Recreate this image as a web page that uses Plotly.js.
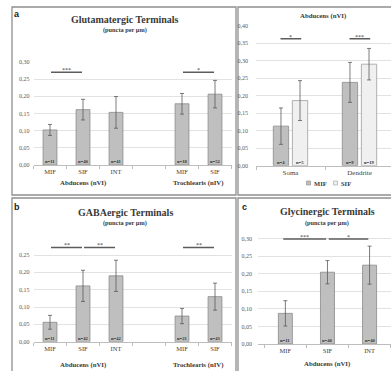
<!DOCTYPE html>
<html><head><meta charset="utf-8">
<script src="https://cdn.plot.ly/plotly-3.0.1.min.js"></script>
<style>html,body{margin:0;padding:0;background:#fff}#chart{width:391px;height:371px}</style>
</head><body><div id="chart"></div>
<script>
// ---------- data ----------
const glutLabels = ["MIF","SIF","INT","","MIF","SIF"];
const glutValues = [0.102,0.161,0.153,null,0.178,0.206];
const glutErrors = [0.016,0.030,0.046,null,0.030,0.040];
const glutN = ["n=11","n=40","n=41","","n=18","n=52"];
const glutSig = [[0,1,0.270,"***"],[4,5,0.270,"*"]];
const glutGroups = [["Abducens (nVI)",1],["Trochlearis (nIV)",4.5]];

const abdCats = ["Soma","Dendrite"];
const abdMIF = [0.113,0.238];
const abdMIFerr = [0.052,0.057];
const abdMIFn = ["n=4","n=9"];
const abdSIF = [0.186,0.290];
const abdSIFerr = [0.057,0.045];
const abdSIFn = ["n=5","n=19"];
const abdSig = [[0,0.363,"*"],[1,0.363,"***"]];

const gabaLabels = ["MIF","SIF","INT","","MIF","SIF"];
const gabaValues = [0.056,0.161,0.190,null,0.074,0.130];
const gabaErrors = [0.020,0.045,0.045,null,0.022,0.039];
const gabaN = ["n=11","n=42","n=42","","n=21","n=43"];
const gabaSig = [[0,1,0.272,"**"],[1,2,0.272,"**"],[4,5,0.272,"**"]];
const gabaGroups = [["Abducens (nVI)",1],["Trochlearis (nIV)",4.5]];

const glyLabels = ["MIF","SIF","INT"];
const glyValues = [0.087,0.204,0.224];
const glyErrors = [0.036,0.033,0.054];
const glyN = ["n=11","n=40","n=40"];
const glySig = [[0,1,0.298,"***"],[1,2,0.298,"*"]];
const glyGroups = [["Abducens (nVI)",1]];

const yTicks30 = [0,0.05,0.10,0.15,0.20,0.25,0.30];
const yTicks25 = [0,0.05,0.10,0.15,0.20,0.25];
const yTicks40 = [0,0.05,0.10,0.15,0.20,0.25,0.30,0.35,0.40];
const fmt = v => v.toFixed(2).replace(".", ",");

// ---------- helpers ----------
const W = 391, H = 371;
const px = x => x / W, py = y => 1 - y / H;
const SERIF = "Liberation Serif, Times New Roman, serif";
const DARK = "#3a3a3a", GRID = "#e2e2e2", AXL = "#bdbdbd";
const BAR = "#bfbfbf", BARL = "#8a8a8a", LIGHT = "#f0f0f0", LIGHTL = "#9e9e9e";

function xAx(anchor, domain, range, labels) {
  const n = labels.length;
  const minor = [];
  for (let i = 0; i <= n; i++) minor.push(i - 0.5);
  return {
    anchor, domain, range, tickmode: "array", tickvals: labels.map((_, i) => i), ticktext: labels,
    ticks: "", showgrid: false, zeroline: false, showline: true, linecolor: AXL, linewidth: 1,
    tickfont: {family: SERIF, size: 6.5, color: "#404040"},
    minor: {tickmode: "array", tickvals: minor, ticks: "outside", ticklen: 3, tickcolor: AXL, showgrid: false},
    fixedrange: true
  };
}
function yAx(anchor, domain, range, ticks, standoff) {
  return {
    anchor, domain, range, tickmode: "array", tickvals: ticks, ticktext: ticks.map(fmt),
    showgrid: true, gridcolor: GRID, gridwidth: 1, zeroline: false, showline: false, ticks: "",
    ticklabelstandoff: standoff, tickfont: {family: SERIF, size: 6, color: "#595959"}, fixedrange: true
  };
}
function barTrace(xa, ya, vals, errs, width, fill, line, offset, name) {
  const t = {
    type: "bar", x: vals.map((_, i) => i), y: vals, xaxis: xa, yaxis: ya, width: width,
    marker: {color: fill, line: {color: line, width: 0.8}}, name: name, showlegend: false,
    error_y: {type: "data", array: errs, visible: true, color: "#5a5a5a", thickness: 0.8, width: 2},
    hoverinfo: "none"
  };
  if (offset !== undefined) t.offset = offset;
  return t;
}

const annotations = [], shapes = [];
function txt(text, x, y, size, opts) {
  annotations.push(Object.assign({text, x, y, xref: "paper", yref: "paper", showarrow: false,
    font: {family: SERIF, size, color: DARK}, xanchor: "center", yanchor: "middle"}, opts || {}));
}
function nLabels(xa, ya, labels, dx) {
  labels.forEach((t, i) => {
    if (!t) return;
    annotations.push({text: "<b>" + t + "</b>", x: i + (dx || 0), y: 0, xref: xa, yref: ya, showarrow: false,
      yanchor: "bottom", yshift: -1, font: {family: SERIF, size: 4.6, color: "#333"}});
  });
}
function sig(xa, ya, x0, x1, y, label) {
  shapes.push({type: "line", xref: xa, yref: ya, x0, x1, y0: y, y1: y, line: {color: "#5c5c5c", width: 1.5}});
  annotations.push({text: label, x: (x0 + x1) / 2, y, xref: xa, yref: ya, showarrow: false,
    yanchor: "bottom", yshift: -3, font: {family: SERIF, size: 6, color: "#333"}});
}
function groupLabels(xa, groups, y) {
  groups.forEach(g => annotations.push({text: "<b>" + g[0] + "</b>", x: g[1], xref: xa, y: py(y), yref: "paper",
    showarrow: false, yanchor: "middle", font: {family: SERIF, size: 6.8, color: DARK}}));
}
function rect(x0, y0, x1, y1) {
  shapes.push({type: "rect", xref: "paper", yref: "paper", x0: px(x0), x1: px(x1), y0: py(y1), y1: py(y0),
    line: {color: "#8f8f8f", width: 1.3}, fillcolor: "rgba(0,0,0,0)", layer: "below"});
}

// ---------- traces ----------
const traces = [
  barTrace("x", "y", glutValues, glutErrors, 0.42, BAR, BARL),
  barTrace("x2", "y2", abdMIF, abdMIFerr, 0.222, BAR, BARL, -0.249, "MIF"),
  barTrace("x2", "y2", abdSIF, abdSIFerr, 0.222, LIGHT, LIGHTL, 0.027, "SIF"),
  barTrace("x3", "y3", gabaValues, gabaErrors, 0.42, BAR, BARL),
  barTrace("x4", "y4", glyValues, glyErrors, 0.333, BAR, BARL)
];

// ---------- panel frames ----------
rect(12, 7, 236, 195);
rect(238, 7, 396, 195);
rect(12, 198, 236, 376);
rect(238, 198, 396, 376);

// ---------- panel a ----------
txt("<b>a</b>", px(17), py(14), 9, {font: {family: "Liberation Sans, Arial, sans-serif", size: 9, color: "#222"}});
txt("<b>Glutamatergic Terminals</b>", px(125), py(19), 10);
txt("<b>(puncta per µm)</b>", px(125), py(29.5), 6.3);
nLabels("x", "y", glutN);
glutSig.forEach(s => sig("x", "y", s[0] + 0.03, s[1] - 0.03, s[2], s[3]));
groupLabels("x", glutGroups, 183);

// ---------- top right ----------
txt("<b>Abducens (nVI)</b>", px(323), py(16), 6.8);
nLabels("x2", "y2", abdMIFn, -0.138);
nLabels("x2", "y2", abdSIFn, 0.138);
abdSig.forEach(s => sig("x2", "y2", s[0] - 0.145, s[0] + 0.155, s[1], s[2]));
// legend
shapes.push({type: "rect", xref: "paper", yref: "paper", x0: px(306.5), x1: px(310.5), y0: py(185), y1: py(181),
  fillcolor: BAR, line: {color: BARL, width: 0.6}});
shapes.push({type: "rect", xref: "paper", yref: "paper", x0: px(333.5), x1: px(337.5), y0: py(185), y1: py(181),
  fillcolor: LIGHT, line: {color: LIGHTL, width: 0.6}});
txt("<b>MIF</b>", px(312), py(183), 6.5, {xanchor: "left"});
txt("<b>SIF</b>", px(339), py(183), 6.5, {xanchor: "left"});

// ---------- panel b ----------
txt("<b>b</b>", px(17), py(207), 9, {font: {family: "Liberation Sans, Arial, sans-serif", size: 9, color: "#222"}});
txt("<b>GABAergic Terminals</b>", px(125), py(212), 10);
txt("<b>(puncta per µm)</b>", px(125), py(222.5), 6.3);
nLabels("x3", "y3", gabaN);
gabaSig.forEach(s => sig("x3", "y3", s[0] + 0.03, s[1] - 0.03, s[2], s[3]));
groupLabels("x3", gabaGroups, 365);

// ---------- panel c ----------
txt("<b>c</b>", px(244), py(207), 9, {font: {family: "Liberation Sans, Arial, sans-serif", size: 9, color: "#222"}});
txt("<b>Glycinergic Terminals</b>", px(327), py(211), 10);
txt("<b>(puncta per µm)</b>", px(327), py(222.5), 6.3);
nLabels("x4", "y4", glyN);
glySig.forEach(s => sig("x4", "y4", s[0] - (s[0] === 0 ? 0.05 : -0.03), s[1] - 0.03, s[2], s[3]));
groupLabels("x4", glyGroups, 364);

// ---------- layout ----------
const layout = {
  width: W, height: H, margin: {l: 0, r: 0, t: 0, b: 0}, paper_bgcolor: "#fff", plot_bgcolor: "rgba(0,0,0,0)",
  barmode: "overlay", showlegend: false,
  xaxis: xAx("y", [px(33.5), px(231.5)], [-0.5, 5.5], glutLabels),
  yaxis: yAx("x", [py(165), py(61.5)], [0, 0.301], yTicks30, 3),
  xaxis2: xAx("y2", [px(256), 1], [-0.5, -0.5 + 135 / 69], abdCats),
  yaxis2: yAx("x2", [py(165.7), py(25.5)], [0, 0.4005], yTicks40, 7),
  xaxis3: xAx("y3", [px(33.5), px(231.5)], [-0.5, 5.5], gabaLabels),
  yaxis3: yAx("x3", [py(341.7), py(237.7)], [0, 0.30], yTicks25, 3),
  xaxis4: xAx("y4", [px(258), 1], [-0.65, -0.65 + 133 / 42.1], glyLabels),
  yaxis4: yAx("x4", [py(344), py(234.9)], [0, 0.31], yTicks30, 5),
  annotations, shapes
};
layout.xaxis2.tickfont = {family: SERIF, size: 7, color: "#404040"};

Plotly.newPlot("chart", traces, layout, {staticPlot: true, displayModeBar: false});
</script></body></html>
